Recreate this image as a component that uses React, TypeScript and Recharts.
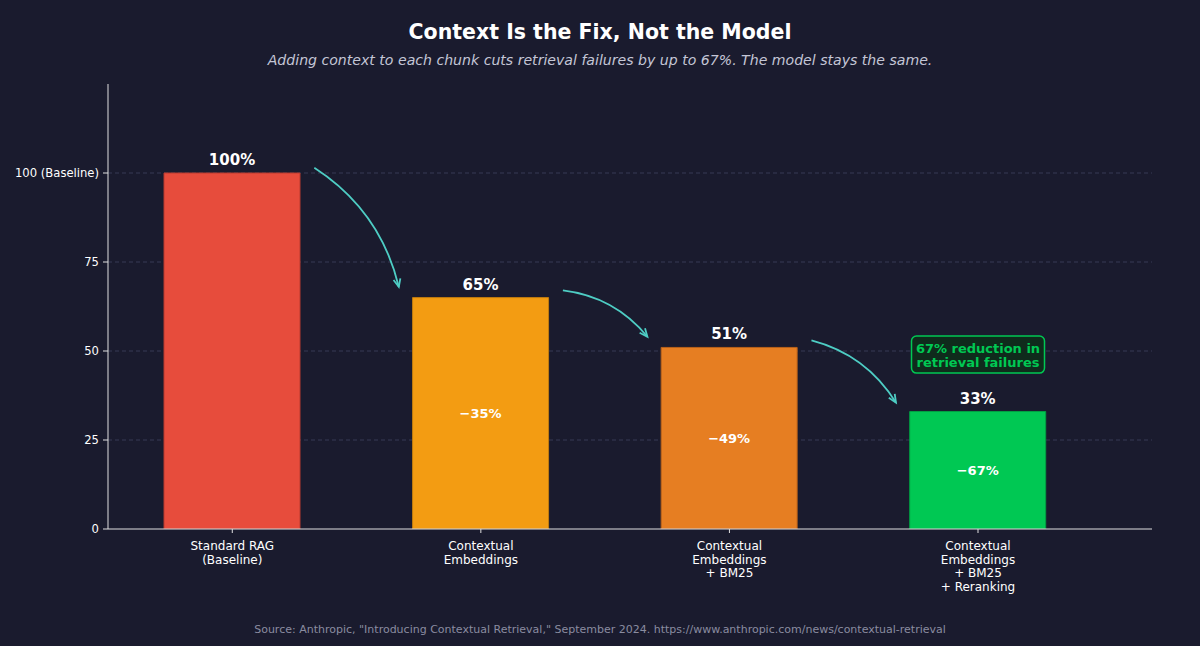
import React from "react";
import {
  ComposedChart,
  Bar,
  XAxis,
  YAxis,
  CartesianGrid,
  LabelList,
  Cell,
  ReferenceLine,
  ReferenceDot,
} from "recharts";

const categories: string[][] = [
  ["Standard RAG", "(Baseline)"],
  ["Contextual", "Embeddings"],
  ["Contextual", "Embeddings", "+ BM25"],
  ["Contextual", "Embeddings", "+ BM25", "+ Reranking"],
];
const failureRates = [100, 65, 51, 33];
const reductions: (number | null)[] = [null, 35, 49, 67];
const barColors = ["#e74c3c", "#f39c12", "#e67e22", "#00c853"];
const barEdges = ["#b83a2e", "#c27c0e", "#b8611a", "#00a043"];
const yTicks = [0, 25, 50, 75, 100];
const gridValues = [25, 50, 75, 100];
const arrowFrom: [number, number][] = [
  [0.33, 101.5],
  [1.33, 67],
  [2.33, 53],
];
const arrowTo: [number, number][] = [
  [0.67, 68],
  [1.67, 54],
  [2.67, 35.5],
];
const calloutPos: [number, number] = [3, 49];
const calloutLines = ["67% reduction in", "retrieval failures"];

const data = failureRates.map((v, i) => ({
  idx: i,
  value: v,
  pct: `${v}%`,
  reduction: reductions[i],
}));

const FONT = "'DejaVu Sans', sans-serif";
const BG = "#1a1b2e";
const TEAL = "#4ecdc4";

const XTick = (props: any) => {
  const { x, y, payload } = props;
  const lines = categories[payload.value] || [];
  return (
    <text x={x} y={y} textAnchor="middle" fill="#ffffff" fontSize={12} fontFamily={FONT}>
      {lines.map((l, i) => (
        <tspan key={i} x={x} dy={i === 0 ? 15 : 13.5}>
          {l}
        </tspan>
      ))}
    </text>
  );
};

const ArrowShape = (props: any) => {
  const { x1, y1, x2, y2 } = props;
  if ([x1, y1, x2, y2].some((v) => v == null || isNaN(v))) return null;
  const dx = x2 - x1;
  const dy = y2 - y1;
  const rad = 0.2;
  const cx = (x1 + x2) / 2 + rad * dy;
  const cy = (y1 + y2) / 2 - rad * dx;
  const tx = x2 - cx;
  const ty = y2 - cy;
  const len = Math.sqrt(tx * tx + ty * ty) || 1;
  const ux = tx / len;
  const uy = ty / len;
  const hl = 8;
  const hw = 3.5;
  const bx = x2 - ux * hl;
  const by = y2 - uy * hl;
  const p1 = `${bx - uy * hw},${by + ux * hw}`;
  const p2 = `${bx + uy * hw},${by - ux * hw}`;
  return (
    <g>
      <path d={`M${x1},${y1} Q${cx},${cy} ${x2},${y2}`} fill="none" stroke={TEAL} strokeWidth={1.8} />
      <path d={`M${p1} L${x2},${y2} L${p2}`} fill="none" stroke={TEAL} strokeWidth={1.8} />
    </g>
  );
};

const CalloutShape = (props: any) => {
  const { cx, cy } = props;
  if (cx == null || cy == null) return null;
  const w = 133;
  const h = 37;
  return (
    <g>
      <rect x={cx - w / 2} y={cy - h / 2} width={w} height={h} rx={5} ry={5} fill="#0f2b1c" stroke="#00c853" strokeWidth={1.5} />
      {calloutLines.map((l, i) => (
        <text key={i} x={cx} y={cy - 2 + i * 14} textAnchor="middle" fill="#00c853" fontSize={13} fontWeight="bold" fontFamily={FONT}>
          {l}
        </text>
      ))}
    </g>
  );
};

export default function App() {
  return (
    <div style={{ position: "relative", width: 1200, height: 646, background: BG, fontFamily: FONT, overflow: "hidden" }}>
      <style>{`body{margin:0;background:${BG};}`}</style>
      <div style={{ position: "absolute", top: 20, left: 0, width: 1200, textAlign: "center", color: "#ffffff", fontSize: 20.5, fontWeight: "bold" }}>
        Context Is the Fix, Not the Model
      </div>
      <div style={{ position: "absolute", top: 52, left: 0, width: 1200, textAlign: "center", color: "#c4c6d6", fontSize: 14.1, fontStyle: "italic" }}>
        Adding context to each chunk cuts retrieval failures by up to 67%. The model stays the same.
      </div>
      <div style={{ position: "absolute", top: 0, left: 0 }}>
        <ComposedChart width={1200} height={646} data={data} margin={{ top: 84, right: 48, left: 0, bottom: 57 }}>
          <CartesianGrid horizontal vertical={false} horizontalValues={gridValues} stroke="#363a55" strokeDasharray="4 3" />
          <XAxis
            dataKey="idx"
            type="number"
            scale="linear"
            domain={[-0.5, 3.7]}
            allowDataOverflow
            ticks={[0, 1, 2, 3]}
            height={60}
            stroke="#e0e0e0"
            tickLine={{ stroke: "#e0e0e0" }}
            tickSize={4}
            tick={<XTick />}
            interval={0}
          />
          <YAxis
            type="number"
            domain={[0, 125]}
            allowDataOverflow
            ticks={yTicks}
            width={108}
            stroke="#e0e0e0"
            tickSize={5}
            tickMargin={4}
            tick={{ fill: "#ffffff", fontSize: 11.6, fontFamily: FONT }}
            tickFormatter={(v: number) => (v === 100 ? "100 (Baseline)" : String(v))}
          />
          <Bar dataKey="value" barSize={136} isAnimationActive={false}>
            {data.map((d, i) => (
              <Cell key={i} fill={barColors[i]} stroke={barEdges[i]} strokeWidth={1} />
            ))}
            <LabelList dataKey="pct" position="top" offset={8} fill="#ffffff" fontSize={15} fontWeight="bold" fontFamily={FONT} />
            <LabelList
              dataKey="reduction"
              position="center"
              fill="#ffffff"
              fontSize={13}
              fontWeight="bold"
              fontFamily={FONT}
              formatter={(v: any) => (v == null ? "" : `\u2212${v}%`)}
            />
          </Bar>
          {arrowFrom.map((f, i) => (
            <ReferenceLine
              key={i}
              segment={[
                { x: f[0], y: f[1] },
                { x: arrowTo[i][0], y: arrowTo[i][1] },
              ]}
              ifOverflow="visible"
              shape={<ArrowShape />}
            />
          ))}
          <ReferenceDot x={calloutPos[0]} y={calloutPos[1]} r={1} ifOverflow="visible" shape={<CalloutShape />} />
        </ComposedChart>
      </div>
      <div style={{ position: "absolute", top: 623, left: 0, width: 1200, textAlign: "center", color: "#8a8ca0", fontSize: 11 }}>
        Source: Anthropic, "Introducing Contextual Retrieval," September 2024. https://www.anthropic.com/news/contextual-retrieval
      </div>
    </div>
  );
}
